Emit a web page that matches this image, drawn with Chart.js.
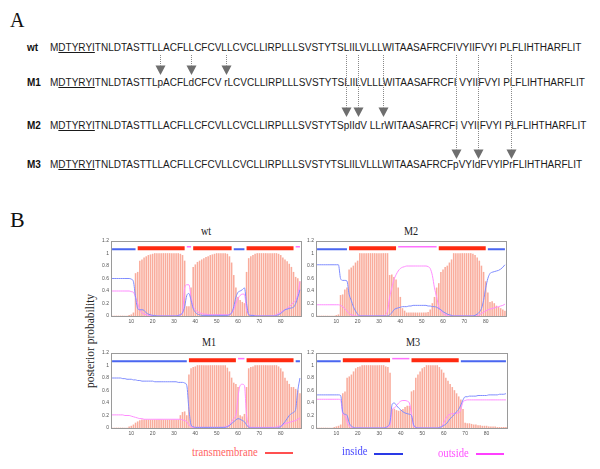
<!DOCTYPE html>
<html><head><meta charset="utf-8">
<script src="https://cdn.jsdelivr.net/npm/chart.js@4.4.0/dist/chart.umd.min.js"></script>
<style>
body{margin:0;width:600px;height:469px;background:#fff;position:relative;overflow:hidden;}
.abs{position:absolute;white-space:nowrap;}
.seq{font-family:"Liberation Sans",Arial,sans-serif;font-size:10px;line-height:12px;color:#1a1a1a;left:50px;}
.rl{font-family:"Liberation Sans",Arial,sans-serif;font-weight:bold;font-size:10px;line-height:12px;color:#111;left:27px;}
.big{font-family:"Liberation Serif","Times New Roman",serif;color:#111;}
.ttl{font-family:"Liberation Serif",serif;font-size:12px;line-height:12px;color:#222;width:60px;text-align:center;transform:scaleX(0.85);}
.leg{font-family:"Liberation Serif",serif;font-size:13px;line-height:13px;transform:scaleX(0.82);transform-origin:left center;}
.ln{position:absolute;height:2px;}
canvas.ch{position:absolute;}
</style></head><body>
<div class="abs big" style="left:10px;top:10px;font-size:20px;line-height:20px;">A</div>
<div class="abs rl" style="top:42px;">wt</div>
<div class="abs rl" style="top:76.5px;">M1</div>
<div class="abs rl" style="top:119.5px;">M2</div>
<div class="abs rl" style="top:158.5px;">M3</div>
<div class="abs seq" style="top:42px;">M<u>DTYRYI</u>TNLDTASTTLLACFLLCFCVLLCVCLLIRPLLLSVSTYTSLIILVLLLWITAASAFRCFIVYIIFVYI PLFLIHTHARFLIT</div>
<div class="abs seq" data-tip="75" style="top:76.5px;">M<u>DTYRYI</u>TNLDTASTTL<span class="mut">p</span>ACFL<span class="mut">d</span>CFCV <span class="mut">r</span>LCVCLLIRPLLLSVSTYTSLIILVLLLWITAASAFRCFI VYIIFVYI PLFLIHTHARFLIT</div>
<div class="abs seq" data-tip="117" style="top:119.5px;">M<u>DTYRYI</u>TNLDTASTTLLACFLLCFCVLLCVCLLIRPLLLSVSTYTS<span class="mut">p</span>II<span class="mut">d</span>V LL<span class="mut">r</span>WITAASAFRCFI VYIIFVYI PLFLIHTHARFLIT</div>
<div class="abs seq" data-tip="159" style="top:158.5px;">M<u>DTYRYI</u>TNLDTASTTLLACFLLCFCVLLCVCLLIRPLLLSVSTYTSLIILVLLLWITAASAFRCF<span class="mut">p</span>VYI<span class="mut">d</span>FVYIP<span class="mut">r</span>FLIHTHARFLIT</div>
<canvas id="arr" width="600" height="200" style="position:absolute;left:0;top:0;"></canvas>

<div class="abs big" style="left:10px;top:209px;font-size:22px;line-height:22px;">B</div>
<div class="abs ttl" style="left:176px;top:225px;">wt</div>
<div class="abs ttl" style="left:381px;top:225px;">M2</div>
<div class="abs ttl" style="left:179px;top:336px;">M1</div>
<div class="abs ttl" style="left:383px;top:336px;">M3</div>
<div class="abs" style="left:90px;top:341px;transform:translate(-50%,-50%) rotate(-90deg);font-family:'Liberation Serif',serif;font-size:11.5px;color:#222;">posterior probability</div>

<canvas id="c_wt" class="ch" width="224" height="94" style="left:84px;top:236px;"></canvas>
<canvas id="c_m2" class="ch" width="224" height="94" style="left:289px;top:236px;"></canvas>
<canvas id="c_m1" class="ch" width="224" height="94" style="left:84px;top:348px;"></canvas>
<canvas id="c_m3" class="ch" width="225" height="94" style="left:289px;top:348px;"></canvas>

<div class="abs leg" style="left:192px;top:445px;color:#ff6464;">transmembrane</div>
<div class="ln" style="left:265px;top:452px;width:28px;background:#ff5050;"></div>
<div class="abs leg" style="left:342px;top:444px;color:#4a4aff;">inside</div>
<div class="ln" style="left:374px;top:452.5px;width:29px;background:#2a3ae6;"></div>
<div class="abs leg" style="left:438px;top:446px;color:#ff50ff;">outside</div>
<div class="ln" style="left:476px;top:453px;width:28px;background:#ff40ff;"></div>

<script>
// ---- data (residues 1..89) ----
const xTicks = [10,20,30,40,50,60,70,80];
const yTicks = [0,0.2,0.4,0.6,0.8,1,1.2];

const tm_wt = [0,0,0,0,0,0,0,0,0.01,0.02,
 0.05,0.68,0.7,0.88,0.9,0.93,0.95,0.97,0.98,0.99,
 1,1,1,1,1,1,1,1,1,1,
 1,1,0.99,0.97,0.88,0.15,0.15,0.45,0.78,0.82,
 0.86,0.88,0.9,0.92,0.94,0.95,0.97,0.98,0.99,1,
 1,1,1,1,0.99,0.95,0.85,0.65,0.45,0.3,
 0.25,0.22,0.2,0.7,0.92,0.95,0.97,0.99,1,1,
 1,1,1,1,1,1,1,1,0.99,0.97,
 0.93,0.9,0.87,0.83,0.78,0.7,0.62,0.6,0.55];
const in_wt = [0.6,0.6,0.6,0.6,0.6,0.6,0.6,0.6,0.6,0.59,
 0.55,0.3,0.12,0.1,0.1,0.09,0.05,0.03,0.02,0.01,
 0.01,0,0,0,0,0,0,0,0,0,
 0,0.01,0.02,0.05,0.15,0.33,0.36,0.25,0.12,0.06,
 0.03,0.02,0.01,0.01,0.01,0.01,0.01,0.01,0.01,0.01,
 0.01,0.01,0.01,0.01,0.01,0.02,0.05,0.15,0.3,0.38,
 0.4,0.42,0.45,0.2,0.02,0.01,0.01,0,0,0,
 0,0,0,0,0,0,0,0.01,0.02,0.04,
 0.07,0.1,0.11,0.12,0.13,0.14,0.2,0.3,0.42];
const out_wt = [0.4,0.4,0.4,0.4,0.4,0.4,0.4,0.4,0.4,0.39,
 0.38,0.3,0.2,0.1,0.05,0.03,0.02,0.01,0.01,0.01,
 0,0,0,0,0,0,0,0,0,0,
 0,0.01,0.02,0.05,0.45,0.5,0.5,0.3,0.15,0.1,
 0.07,0.05,0.04,0.03,0.03,0.02,0.02,0.02,0.02,0.02,
 0.02,0.02,0.02,0.02,0.02,0.03,0.05,0.1,0.2,0.28,
 0.33,0.35,0.35,0.1,0.03,0.01,0.01,0.01,0,0,
 0,0,0,0,0,0,0.01,0.02,0.04,0.06,
 0.08,0.1,0.12,0.15,0.18,0.22,0.25,0.35,0.55];
const topo_wt = [['i',1,12],['M',13,35],['o',36,38],['M',39,57],['i',58,63],['M',64,86],['o',87,89]];

const tm_m2 = [0,0,0,0,0,0,0,0,0,0.01,
 0.02,0.33,0.34,0.42,0.45,0.74,0.77,0.8,0.85,0.88,
 1,1,1,1,1,1,1,1,1,1,
 1,1,1,1,0.65,0.66,0.62,0.58,0.45,0.3,
 0.12,0.08,0.05,0.05,0.05,0.05,0.05,0.05,0.05,0.05,
 0.05,0.05,0.06,0.1,0.2,0.3,0.45,0.52,0.7,0.74,
 0.78,0.8,0.85,0.9,1,1,1,1,1,1,
 1,1,1,0.99,0.97,0.93,0.88,0.8,0.7,0.55,
 0.37,0.22,0.23,0.2,0.16,0.14,0.12,0.1,0.08];
const in_m2 = [0.82,0.82,0.82,0.82,0.82,0.82,0.82,0.82,0.82,0.82,
 0.82,0.6,0.57,0.57,0.56,0.35,0.25,0.15,0.08,0.03,
 0,0,0,0,0,0,0,0,0,0,
 0,0,0,0,0.02,0.05,0.1,0.12,0.13,0.14,
 0.15,0.15,0.15,0.16,0.16,0.17,0.17,0.17,0.17,0.17,
 0.17,0.17,0.16,0.16,0.15,0.15,0.14,0.12,0.1,0.07,
 0.05,0.03,0.02,0.01,0,0,0,0,0,0,
 0,0,0,0,0.01,0.03,0.06,0.12,0.25,0.45,
 0.6,0.68,0.7,0.71,0.72,0.73,0.75,0.78,0.82];
const out_m2 = [0.18,0.18,0.18,0.18,0.18,0.18,0.18,0.18,0.18,0.18,
 0.18,0.17,0.15,0.12,0.08,0.04,0.02,0.01,0,0,
 0,0,0,0,0,0,0,0,0,0,
 0,0,0.02,0.08,0.3,0.45,0.58,0.66,0.72,0.76,
 0.78,0.79,0.8,0.8,0.8,0.8,0.8,0.8,0.8,0.8,
 0.8,0.8,0.79,0.76,0.65,0.45,0.3,0.15,0.08,0.04,
 0.02,0.01,0,0,0,0,0,0,0,0,
 0,0,0,0,0,0,0.02,0.04,0.06,0.08,
 0.1,0.11,0.12,0.13,0.14,0.15,0.16,0.17,0.19];
const topo_m2 = [['i',1,15],['M',16,38],['o',39,57],['M',58,80],['i',81,89]];

const tm_m1 = [0,0,0,0,0,0,0,0,0.02,0.03,
 0.05,0.08,0.1,0.12,0.13,0.13,0.13,0.13,0.13,0.13,
 0.13,0.13,0.13,0.13,0.13,0.13,0.13,0.13,0.13,0.13,
 0.13,0.13,0.2,0.25,0.26,0.2,0.85,0.95,0.97,0.98,
 1,1,1,1,1,1,1,1,1,1,
 1,1,1,1,0.96,0.9,0.8,0.72,0.7,0.65,
 0.2,0.18,0.22,0.65,0.95,0.97,0.98,1,1,1,
 1,1,1,1,1,1,1,1,0.98,0.95,
 0.9,0.8,0.75,0.7,0.65,0.65,0.62,0.6,0.55];
const in_m1 = [0.8,0.8,0.8,0.8,0.8,0.79,0.79,0.78,0.78,0.78,
 0.77,0.77,0.76,0.76,0.75,0.75,0.75,0.75,0.75,0.75,
 0.74,0.74,0.74,0.74,0.74,0.74,0.74,0.74,0.74,0.74,
 0.74,0.73,0.73,0.73,0.72,0.68,0.3,0.05,0.02,0.01,
 0.01,0.01,0.01,0.01,0.01,0.01,0.01,0.01,0.01,0.01,
 0.01,0.01,0.01,0.01,0.02,0.04,0.07,0.1,0.13,0.15,
 0.14,0.12,0.1,0.05,0.01,0,0,0,0,0,
 0,0,0,0,0,0,0,0,0.01,0.02,
 0.06,0.1,0.15,0.2,0.23,0.25,0.3,0.6,0.8];
const out_m1 = [0.21,0.21,0.21,0.21,0.21,0.21,0.2,0.2,0.2,0.19,
 0.18,0.17,0.16,0.15,0.15,0.14,0.14,0.14,0.14,0.14,
 0.14,0.14,0.14,0.14,0.14,0.14,0.14,0.14,0.14,0.14,
 0.14,0.14,0.14,0.13,0.12,0.1,0.05,0.02,0.01,0.01,
 0.01,0.01,0.01,0.01,0.01,0.01,0.01,0.01,0.01,0.01,
 0.01,0.01,0.01,0.02,0.03,0.05,0.1,0.15,0.2,0.5,
 0.68,0.7,0.68,0.2,0.05,0.01,0.01,0.01,0.01,0.01,
 0.01,0.01,0.01,0.01,0.01,0.01,0.01,0.02,0.03,0.03,
 0.05,0.07,0.08,0.09,0.1,0.11,0.12,0.14,0.16];
const topo_m1 = [['i',1,36],['M',37,59],['o',60,63],['M',64,86],['i',87,89]];

const tm_m3 = [0,0,0,0,0,0,0,0,0.01,0.02,
 0.03,0.05,0.55,0.58,0.8,0.82,0.85,0.9,0.95,0.97,
 0.98,1,1,1,1,1,1,1,1,1,
 1,1,0.98,0.97,0.88,0.3,0.3,0.28,0.27,0.28,
 0.3,0.33,0.35,0.35,0.58,0.6,0.8,0.85,0.9,0.95,
 0.97,1,1,1,1,1,1,0.97,0.93,0.88,
 0.8,0.75,0.7,0.65,0.6,0.55,0.5,0.45,0.3,0.08,
 0.07,0.07,0.06,0.05,0.05,0.04,0.04,0.03,0.03,0.03,
 0.02,0.02,0.02,0.02,0.01,0.01,0.01,0.01,0.01];
const in_m3 = [0.53,0.53,0.53,0.53,0.53,0.53,0.53,0.53,0.53,0.53,
 0.53,0.52,0.25,0.22,0.2,0.08,0.03,0.01,0,0,
 0,0,0,0,0,0,0,0,0,0,
 0,0,0.01,0.03,0.1,0.38,0.4,0.36,0.32,0.29,
 0.26,0.24,0.23,0.22,0.2,0.05,0.01,0,0,0,
 0,0,0,0,0,0,0,0.01,0.02,0.04,
 0.06,0.1,0.15,0.18,0.22,0.26,0.3,0.37,0.45,0.5,
 0.5,0.51,0.51,0.51,0.51,0.52,0.52,0.52,0.52,0.52,
 0.53,0.53,0.53,0.53,0.53,0.54,0.54,0.54,0.55];
const out_m3 = [0.46,0.46,0.46,0.46,0.46,0.46,0.46,0.46,0.46,0.46,
 0.46,0.45,0.22,0.2,0.1,0.03,0.01,0,0,0,
 0,0,0,0,0,0,0,0,0,0,
 0,0,0.01,0.02,0.05,0.3,0.32,0.36,0.4,0.43,
 0.44,0.44,0.43,0.4,0.22,0.03,0.01,0,0,0,
 0,0,0,0,0,0,0,0,0.02,0.08,
 0.15,0.2,0.22,0.23,0.23,0.24,0.24,0.3,0.42,0.44,
 0.45,0.45,0.45,0.45,0.45,0.45,0.45,0.45,0.45,0.45,
 0.45,0.45,0.45,0.45,0.45,0.45,0.45,0.45,0.45];
const topo_m3 = [['i',1,12],['M',13,35],['o',36,44],['M',45,67],['i',68,89]];

// ---- panel A arrows ----
function drawArrows(){
  const c = document.getElementById('arr'), ctx = c.getContext('2d');
  ctx.clearRect(0,0,600,200);
  document.querySelectorAll('.mut').forEach(s=>{
    const r = s.getBoundingClientRect();
    const x = Math.round(r.left + r.width/2) + 0.5;
    const tip = parseFloat(s.parentElement.dataset.tip);
    const headTop = tip - 9.5;
    ctx.save();
    ctx.strokeStyle = '#8a8a8a'; ctx.lineWidth = 1; ctx.setLineDash([1,1]);
    ctx.beginPath(); ctx.moveTo(x, 55); ctx.lineTo(x, headTop); ctx.stroke();
    ctx.restore();
    ctx.fillStyle = '#6e6e6e';
    ctx.beginPath(); ctx.moveTo(x-5, headTop); ctx.lineTo(x+5, headTop); ctx.lineTo(x, tip); ctx.closePath(); ctx.fill();
  });
}
drawArrows();
if (document.fonts && document.fonts.ready) document.fonts.ready.then(drawArrows);

// ---- panel B charts ----
const frame = {
  id:'frame',
  afterDatasetsDraw(chart){
    const a = chart.chartArea, ctx = chart.ctx;
    ctx.save(); ctx.strokeStyle = '#9a9a9a'; ctx.lineWidth = 1;
    ctx.strokeRect(Math.round(a.left)+0.5, Math.round(a.top)+0.5, Math.round(a.right-a.left), Math.round(a.bottom-a.top));
    ctx.restore();
  }
};

function makeChart(id, tm, inn, out, topo){
  const pts = arr => arr.map((v,i)=>({x:i+1, y:v}));
  const seg = (cls, lvl) => {
    const d = [];
    topo.forEach(t => { if (t[0]===cls) d.push({x:t[1],y:lvl},{x:t[2],y:lvl},{x:t[2]+0.01,y:null}); });
    return d;
  };
  return new Chart(document.getElementById(id), {
    type:'bar',
    data:{datasets:[
      {type:'line', data:seg('M',1.085), borderColor:'#ff2a10', borderWidth:4, borderCapStyle:'butt', pointRadius:0, spanGaps:false, order:1},
      {type:'line', data:seg('i',1.07), borderColor:'#4a66f0', borderWidth:2, borderCapStyle:'butt', pointRadius:0, spanGaps:false, order:1},
      {type:'line', data:seg('o',1.11), borderColor:'#ff70ff', borderWidth:1.5, borderCapStyle:'butt', pointRadius:0, spanGaps:false, order:1},
      {type:'line', data:pts(inn), borderColor:'#7f8cff', borderWidth:1, pointRadius:0, cubicInterpolationMode:'monotone', order:2},
      {type:'line', data:pts(out), borderColor:'#ff8cff', borderWidth:1, pointRadius:0, cubicInterpolationMode:'monotone', order:2},
      {type:'bar', data:pts(tm), backgroundColor:'rgba(246,140,118,0.72)', barThickness:0.9, order:10}
    ]},
    options:{
      responsive:false, animation:false, devicePixelRatio:1,
      layout:{padding:{top:5,right:7,left:0,bottom:0}},
      plugins:{legend:{display:false}, tooltip:{enabled:false}, title:{display:false}},
      scales:{
        x:{type:'linear', offset:false, min:0.5, max:89.5,
           grid:{display:false, drawTicks:false}, border:{display:false},
           afterBuildTicks:s=>{ s.ticks = xTicks.map(v=>({value:v})); },
           afterFit:s=>{ s.height = 14; },
           ticks:{font:{family:'Liberation Sans', size:5}, color:'#555', padding:3, maxRotation:0, autoSkip:false, callback:v=>String(v)}},
        y:{min:0, max:1.2,
           grid:{display:false, drawTicks:false}, border:{display:false},
           afterBuildTicks:s=>{ s.ticks = yTicks.map(v=>({value:v})); },
           afterFit:s=>{ s.width = 27; },
           ticks:{font:{family:'Liberation Sans', size:5}, color:'#555', padding:2, autoSkip:false, callback:v=>String(v)}}
      }
    },
    plugins:[frame]
  });
}
makeChart('c_wt', tm_wt, in_wt, out_wt, topo_wt);
makeChart('c_m2', tm_m2, in_m2, out_m2, topo_m2);
makeChart('c_m1', tm_m1, in_m1, out_m1, topo_m1);
makeChart('c_m3', tm_m3, in_m3, out_m3, topo_m3);
</script>
</body></html>
